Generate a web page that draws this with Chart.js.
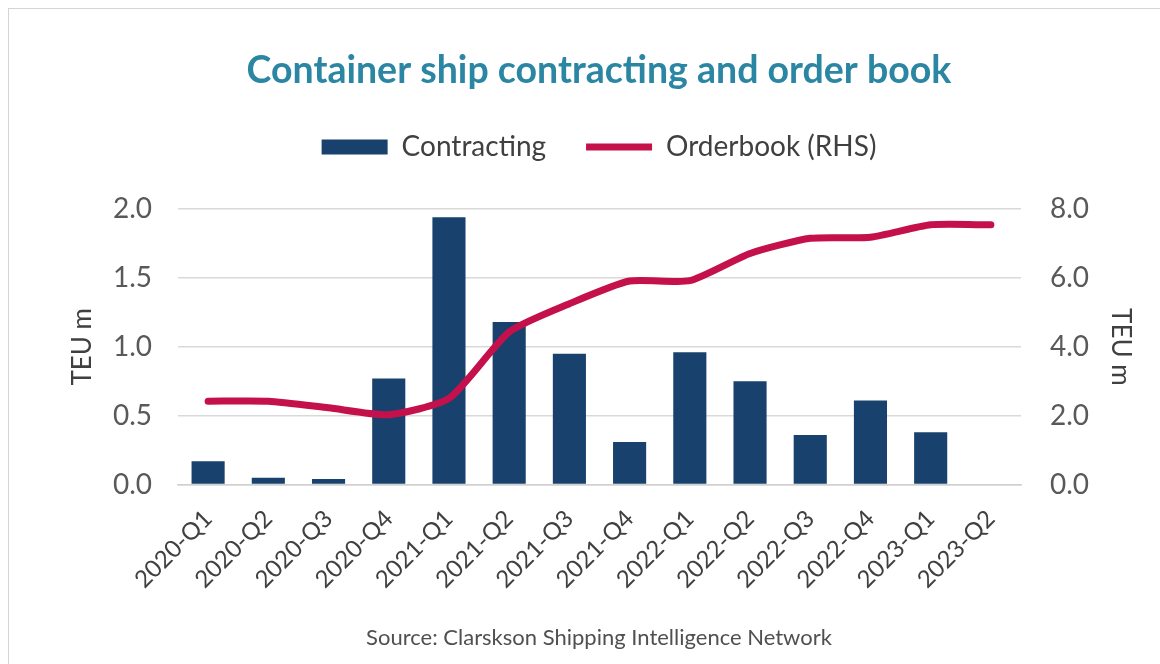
<!DOCTYPE html>
<html>
<head>
<meta charset="utf-8">
<script src="https://cdn.jsdelivr.net/npm/chart.js@4"></script>
<style>
  html, body { margin: 0; padding: 0; background: #fff; }
  #wrap { position: relative; width: 1160px; height: 664px; overflow: hidden; }
  #frame { position: absolute; left: 8px; top: 8px; width: 1200px; height: 700px; border: 1px solid #d4d4d4; }
  #cv { position: absolute; left: 0; top: 0; }
</style>
</head>
<body>
<div id="wrap">
  <div id="frame"></div>
  <canvas id="cv" width="1160" height="664"></canvas>
</div>
<script>
/*************************************************
 * Container ship contracting and order book     *
 *************************************************/
const quarters = [
    '2020-Q1', '2020-Q2', '2020-Q3', '2020-Q4',
    '2021-Q1', '2021-Q2', '2021-Q3', '2021-Q4',
    '2022-Q1', '2022-Q2', '2022-Q3', '2022-Q4',
    '2023-Q1', '2023-Q2'
];
// TEU m, left axis
const contracting = [0.17, 0.05, 0.04, 0.77, 1.94, 1.18, 0.95, 0.31, 0.96, 0.75, 0.36, 0.61, 0.38, null];
// TEU m, right axis
const orderbook = [2.42, 2.42, 2.23, 2.03, 2.5, 4.43, 5.25, 5.91, 5.92, 6.71, 7.15, 7.18, 7.54, 7.54];

const leftTicks = [0, 0.5, 1.0, 1.5, 2.0];
const rightTicks = [0, 2, 4, 6, 8];

const FONT = 'Lato, "Noto Sans", sans-serif';

// push the plot area down below the legend
const legendGap = {
    id: 'legendGap',
    beforeInit(chart) {
        const fit = chart.legend.fit;
        chart.legend.fit = function () {
            fit.bind(chart.legend)();
            this.height += 38;
        };
    }
};

const ctx = document.getElementById('cv').getContext('2d');
const myChart = new Chart(ctx, {
    type: 'bar',
    data: {
        labels: quarters,
        datasets: [{
            label: 'Contracting',
            data: contracting,
            backgroundColor: '#18426d',
            borderWidth: 0,
            barPercentage: 0.55,
            categoryPercentage: 1,
            pointStyle: 'rect',
            yAxisID: 'y',
            order: 2
        }, {
            type: 'line',
            label: 'Orderbook (RHS)',
            data: orderbook,
            borderColor: '#c5114b',
            backgroundColor: '#c5114b',
            borderWidth: 7,
            tension: 0.2,
            pointRadius: 0,
            borderCapStyle: 'round',
            pointStyle: 'line',
            yAxisID: 'y1',
            order: 1
        }]
    },
    options: {
        responsive: false,
        animation: false,
        layout: {
            padding: { left: 38, right: 0, top: 0, bottom: 13 }
        },
        scales: {
            x: {
                grid: { display: false },
                border: { display: true, color: '#d0d0d0', width: 1.5 },
                ticks: {
                    color: '#404040',
                    font: { family: FONT, size: 24 },
                    minRotation: 45,
                    maxRotation: 45,
                    padding: 12
                },
                afterFit: function (scale) { scale.height = 132; }
            },
            y: {
                position: 'left',
                min: 0,
                max: 2,
                afterBuildTicks: function (scale) {
                    scale.ticks = leftTicks.map(v => ({ value: v }));
                },
                grid: { color: '#d9d9d9', lineWidth: 1.5, drawTicks: false },
                border: { display: false },
                ticks: {
                    color: '#595959',
                    font: { family: FONT, size: 28 },
                    padding: 26,
                    callback: v => v.toFixed(1)
                },
                title: {
                    display: true,
                    text: 'TEU m',
                    color: '#404040',
                    font: { family: FONT, size: 26 },
                    padding: { top: 29, bottom: 0 }
                },
                afterFit: function (scale) { scale.width = 140; }
            },
            y1: {
                position: 'right',
                min: 0,
                max: 8,
                afterBuildTicks: function (scale) {
                    scale.ticks = rightTicks.map(v => ({ value: v }));
                },
                grid: { display: false, drawTicks: false },
                border: { display: false },
                ticks: {
                    color: '#595959',
                    font: { family: FONT, size: 28 },
                    padding: 29,
                    callback: v => v.toFixed(1)
                },
                title: {
                    display: true,
                    text: 'TEU m',
                    color: '#404040',
                    font: { family: FONT, size: 26 },
                    padding: { top: 24, bottom: 0 }
                },
                afterFit: function (scale) { scale.width = 139; }
            }
        },
        plugins: {
            title: {
                display: true,
                text: 'Container ship contracting and order book',
                color: '#2b86a3',
                font: { family: FONT, size: 37.5, weight: 'bold' },
                padding: { top: 48, bottom: 0 }
            },
            subtitle: {
                display: true,
                position: 'bottom',
                text: 'Source: Clarskson Shipping Intelligence Network',
                color: '#505050',
                font: { family: FONT, size: 22 },
                padding: { top: 8, bottom: 0 }
            },
            legend: {
                display: true,
                position: 'top',
                labels: {
                    color: '#404040',
                    font: { family: FONT, size: 28 },
                    usePointStyle: true,
                    pointStyleWidth: 66,
                    boxHeight: 15,
                    padding: 40,
                    sort: (a, b) => a.datasetIndex - b.datasetIndex
                }
            },
            tooltip: { enabled: false }
        }
    },
    plugins: [legendGap]
});
</script>
</body>
</html>
